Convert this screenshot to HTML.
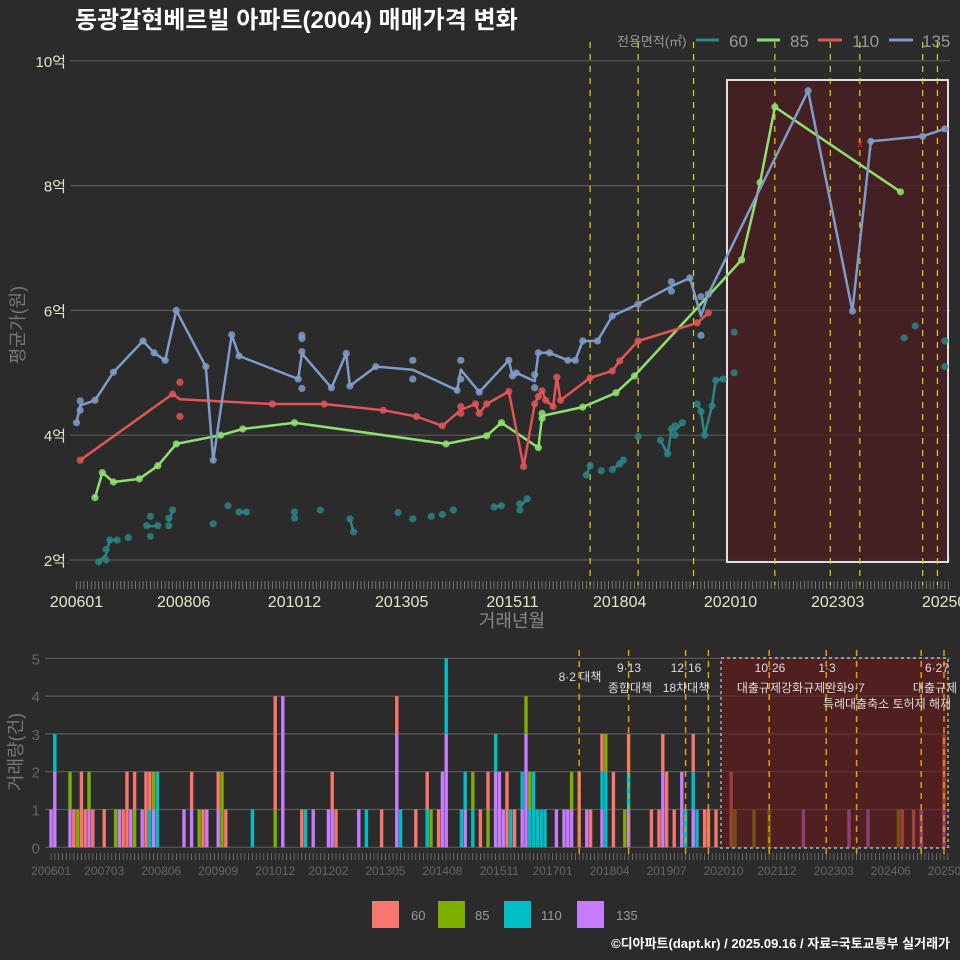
<!DOCTYPE html>
<html><head><meta charset="utf-8">
<style>
html,body{margin:0;padding:0;background:#2b2b2b;}
svg{display:block;font-family:"Liberation Sans","Noto Sans CJK KR",sans-serif;}
</style></head>
<body>
<svg id="chart" width="960" height="960" viewBox="0 0 960 960" xmlns="http://www.w3.org/2000/svg">
<rect width="960" height="960" fill="#2b2b2b"/>
<text x="75" y="28" fill="#ffffff" font-size="24" font-weight="bold">동광갈현베르빌 아파트(2004) 매매가격 변화</text>
<g>
<text x="617" y="46" fill="#999" font-size="13">전용면적(㎡)</text>
<line x1="696" y1="40" x2="719" y2="40" stroke="#2b8a8a" stroke-width="3"/>
<text x="729" y="47" fill="#999" font-size="17">60</text>
<line x1="757" y1="40" x2="780" y2="40" stroke="#8fe070" stroke-width="3"/>
<text x="790" y="47" fill="#999" font-size="17">85</text>
<line x1="818" y1="40" x2="842" y2="40" stroke="#e05555" stroke-width="3"/>
<text x="852" y="47" fill="#999" font-size="17">110</text>
<line x1="889" y1="40" x2="913" y2="40" stroke="#7f9cc8" stroke-width="3"/>
<text x="922" y="47" fill="#999" font-size="17">135</text>
</g>
<g id="topPanel"></g>
<g id="botPanel"></g>
<text transform="translate(24,325) rotate(-90)" text-anchor="middle" fill="#777" font-size="18">평균가(원)</text>
<text x="512" y="627" text-anchor="middle" fill="#888" font-size="18">거래년월</text>
<text transform="translate(22,752) rotate(-90)" text-anchor="middle" fill="#777" font-size="18">거래량(건)</text>
<g>
<rect x="372" y="901" width="27" height="27" fill="#F8766D"/>
<text x="411" y="920" fill="#999" font-size="13">60</text>
<rect x="438" y="901" width="27" height="27" fill="#7CAE00"/>
<text x="475" y="920" fill="#999" font-size="13">85</text>
<rect x="504" y="901" width="27" height="27" fill="#00BFC4"/>
<text x="541" y="920" fill="#999" font-size="13">110</text>
<rect x="577" y="901" width="27" height="27" fill="#C77CFF"/>
<text x="616" y="920" fill="#999" font-size="13">135</text>
</g>
<text x="950" y="948" text-anchor="end" fill="#ffffff" font-size="13" font-weight="bold">©디아파트(dapt.kr) / 2025.09.16 / 자료=국토교통부 실거래가</text>
</svg>
<script>
// ---- price data (month index from 2006-01, value in 억) ----
const m60 = [6,8,8,9,11,14,19,20,20,22,25,25,26,37,41,44,46,59,59,66,74,75,87,91,96,99,102,113,115,120,120,122,138,139,142,145,147,148,152,158,160,161,162,162,164,168,169,170,172,173,175,178,178,224,227,235,235];
const v60 = [1.97,2.0,2.17,2.32,2.32,2.36,2.55,2.7,2.38,2.55,2.55,2.67,2.8,2.58,2.87,2.77,2.77,2.77,2.67,2.8,2.66,2.45,2.76,2.66,2.7,2.73,2.8,2.85,2.87,2.8,2.9,2.98,3.36,3.51,3.43,3.45,3.54,3.6,3.98,3.92,3.7,4.1,4.15,4.0,4.2,4.5,4.38,4.0,4.47,4.88,4.9,5.65,5.0,5.56,5.75,5.51,5.1];
const m85 = [5,7,10,17,22,27,39,45,59,100,111,115,125,126,126,137,146,151,180,185,189,223];
const v85 = [3.0,3.4,3.25,3.3,3.51,3.86,4.0,4.1,4.2,3.86,3.99,4.2,3.8,4.35,4.27,4.45,4.68,4.95,6.81,8.05,9.26,7.9];
const m110 = [1,26,28,28,53,67,83,92,99,104,104,108,109,111,117,121,124,125,126,127,129,130,131,139,145,147,152,168,171];
const v110 = [3.6,4.66,4.85,4.3,4.5,4.5,4.4,4.3,4.15,4.46,4.35,4.5,4.35,4.5,4.7,3.5,4.5,4.62,4.71,4.56,4.46,4.93,4.56,4.92,5.03,5.19,5.51,5.8,5.96];
const m135 = [0,1,1,5,10,18,21,24,27,35,37,42,44,60,61,61,61,61,69,73,74,81,91,91,103,104,104,109,117,118,119,124,124,125,128,133,135,137,141,145,152,161,161,166,169,169,171,198,210,215,229,235];
const v135 = [4.2,4.55,4.4,4.56,5.01,5.51,5.32,5.2,6.0,5.1,3.6,5.61,5.27,4.9,5.6,5.55,5.34,4.75,4.76,5.31,4.79,5.1,5.2,4.9,4.72,5.2,4.9,4.69,5.2,4.95,5.0,4.97,4.76,5.32,5.32,5.2,5.2,5.51,5.51,5.91,6.1,6.46,6.31,6.52,6.22,5.6,6.26,9.52,5.99,8.71,8.79,8.91];
const yTicks = [2,4,6,8,10];
const yTickLabels = ["2억","4억","6억","8억","10억"];
const xTickMonths = [0,29,59,88,118,147,177,206,236];
const xTickLabels = ["200601","200806","201012","201305","201511","201804","202010","202303","202509"];
const policyMonths = [139,152,167,189,204,212,229,233];
// ---- volume data ----
const barMonths = [0,1,5,6,7,8,9,10,11,14,17,18,19,20,21,22,24,25,26,27,28,35,37,39,40,41,44,45,46,53,59,61,66,67,69,73,74,75,81,83,87,91,92,96,99,100,102,103,104,108,109,111,113,115,117,118,119,120,121,122,124,125,126,127,128,129,130,133,135,136,137,139,141,142,145,146,148,151,152,158,160,161,162,164,166,167,169,170,172,173,175,179,180,185,189,198,210,215,223,224,227,229,235];
const c135 = [1,2,1,0,0,0,0,1,0,0, 0,1,0,0,1,0,1,0,0,1, 0,1,1,0,0,1,1,0,0,0, 0,4,0,0,1,1,1,0,1,0, 0,3,0,0,0,0,0,2,3,0, 1,0,0,0,2,2,1,0,0,0, 1,3,0,0,0,0,0,1,1,1, 1,0,1,0,1,0,0,0,1,0, 0,2,0,0,2,0,1,0,0,0, 0,0,0,0,0,1,1,1,0,0, 0,1,1];
const c110 = [0,1,0,0,0,0,0,0,0,0, 0,0,0,0,0,0,0,0,1,0, 2,0,0,0,0,0,0,0,0,1, 0,0,0,1,0,0,0,0,0,1, 0,0,1,0,1,0,0,0,2,1, 1,1,0,0,1,0,0,0,1,0, 1,0,1,2,1,1,1,0,0,0, 0,0,0,0,1,2,0,0,1,0, 0,0,0,0,0,1,1,1,0,0, 0,0,0,0,0,0,0,0,0,0, 0,0,0];
const c85 = [0,0,1,0,1,0,0,1,0,0, 1,0,0,0,0,1,0,0,0,1, 0,0,0,1,0,0,0,2,0,0, 1,0,0,0,0,0,0,0,0,0, 0,0,0,0,0,1,0,0,0,0, 0,1,0,1,0,0,0,0,0,0, 0,1,1,0,0,0,0,0,0,0, 1,0,0,0,0,1,0,1,0,0, 0,0,0,0,0,0,0,0,0,0, 0,0,1,1,1,0,0,0,1,0, 0,0,0];
const c60 = [0,0,0,1,0,2,1,0,1,1, 0,0,1,2,0,1,0,2,1,0, 0,0,1,0,1,0,1,0,1,0, 3,0,1,0,0,0,1,1,0,0, 1,1,0,1,1,0,1,0,0,0, 0,0,1,1,0,0,0,2,0,1, 0,0,0,0,0,0,0,0,0,0, 0,2,0,1,1,0,2,0,1,1, 1,1,2,1,0,0,1,0,1,1, 1,2,0,0,0,0,0,0,0,1, 1,0,2];
const vTicks = [0,1,2,3,4,5];
const bTickMonths = [0,14,29,44,59,73,88,103,118,132,147,162,177,191,206,221,236];
const bTickLabels = ["200601","200703","200806","200909","201012","201202","201305","201408","201511","201701","201804","201907","202010","202112","202303","202406","202509"];
const annoMonths = [139,152,167,173,189,204,212,229,235];

const NS="http://www.w3.org/2000/svg";
function mk(parent,tag,attrs){const e=document.createElementNS(NS,tag);for(const k in attrs)e.setAttribute(k,attrs[k]);parent.appendChild(e);return e;}
const topG=document.getElementById('topPanel'), botG=document.getElementById('botPanel');
const xT=m=>76.5+3.695*m, yT=v=>560-(v-2)*62.4;
const xB=m=>51+3.80*m, yB=v=>847.3-v*37.8;

yTicks.forEach((t,i)=>{
  const g=mk(topG,'line',{x1:70,x2:950,y1:yT(t),y2:yT(t),stroke:'#5a5a5a','stroke-width':1.2});
  
  
  const tx=mk(topG,'text',{x:66,y:yT(t)+6,'text-anchor':'end',fill:'#e8e4c8','font-size':15});
  tx.textContent=yTickLabels[i];
  
  
});
for(let m=0;m<=236;m++){
  const t=mk(topG,'line',{x1:xT(m),x2:xT(m),y1:581,y2:589,stroke:'#888','stroke-width':0.8});
  
  
}
xTickMonths.forEach((m,i)=>{
  const tx=mk(topG,'text',{x:xT(m),y:607,'text-anchor':'middle',fill:'#e8e4c8','font-size':16});
  tx.textContent=xTickLabels[i];
  
  
});
const sh=mk(topG,'rect',{x:727,y:80,width:221,height:482,fill:'#4a1f22',opacity:0.85,stroke:'#ffffff','stroke-width':2});


policyMonths.forEach(m=>{
  const l=mk(topG,'line',{x1:xT(m),x2:xT(m),y1:42,y2:585,stroke:'#d8d800','stroke-width':1.2,'stroke-dasharray':'6,6'});
  
  
});
function means(ms,vs){const o={};ms.forEach((m,i)=>{(o[m]=o[m]||[]).push(vs[i]);});return Object.keys(o).map(Number).sort((a,b)=>a-b).map(m=>[m,o[m].reduce((a,b)=>a+b,0)/o[m].length]);}
function series(ms,vs,col,name,maxGap){
  const mm=means(ms,vs);
  let d='';
  mm.forEach((p,i)=>{const cmd=(i===0||(maxGap&&p[0]-mm[i-1][0]>maxGap))?'M':'L';d+=cmd+xT(p[0]).toFixed(1)+','+yT(p[1]).toFixed(1)+' ';});
  const pa=mk(topG,'path',{d:d,fill:'none',stroke:col,'stroke-width':2.5,'stroke-linejoin':'round'});
  
  
  ms.forEach((m,i)=>{
    const c=mk(topG,'circle',{cx:xT(m),cy:yT(vs[i]),r:3.6,fill:col,opacity:0.85});
    
    
  });
}
series(m60,v60,'#2b8585','60',2);
series(m85,v85,'#8fe070','85',0);
series(m110,v110,'#e05555','110',0);
series(m135,v135,'#7f9cc8','135',0);
const xm=mk(topG,'text',{x:860,y:147,'text-anchor':'middle',fill:'#ff2020','font-size':12});
xm.textContent='x';



vTicks.forEach(t=>{
  const g=mk(botG,'line',{x1:45,x2:950,y1:yB(t),y2:yB(t),stroke:'#5a5a5a','stroke-width':1.2});
  
  
  const tx=mk(botG,'text',{x:40,y:yB(t)+6,'text-anchor':'end',fill:'#666','font-size':15});
  tx.textContent=String(t);
  
  
});
for(let m=0;m<=236;m++){
  const t=mk(botG,'line',{x1:xB(m),x2:xB(m),y1:853,y2:860,stroke:'#777','stroke-width':0.8});
  
  
}
bTickMonths.forEach((m,i)=>{
  const tx=mk(botG,'text',{x:xB(m),y:875,'text-anchor':'middle',fill:'#666','font-size':12});
  tx.textContent=bTickLabels[i];
  
  
});
const cols=['#C77CFF','#00BFC4','#7CAE00','#F8766D'];
const stacks=[c135,c110,c85,c60];
barMonths.forEach((m,i)=>{
  let base=0;
  stacks.forEach((arr,k)=>{
    const v=arr[i]; if(!v) return;
    const r=mk(botG,'rect',{x:xB(m)-1.7,y:yB(base+v),width:3.4,height:yB(base)-yB(base+v),fill:cols[k]});
    
    
    base+=v;
  });
});
const sb=mk(botG,'rect',{x:721,y:658,width:227,height:190,fill:'#6a1a1a',opacity:0.6,stroke:'#cccccc','stroke-width':2,'stroke-dasharray':'3,3'});


annoMonths.forEach(m=>{
  const l=mk(botG,'line',{x1:xB(m),x2:xB(m),y1:650,y2:858,stroke:'#e6a000','stroke-width':1.5,'stroke-dasharray':'6,5'});
  
  
});
const annos=[[580,681,'8·2 대책'],[629,672,'9·13'],[630,692,'종합대책'],[686,672,'12·16'],[686,692,'18차대책'],[770,672,'10·26'],[770,692,'대출규제강화'],[827,672,'1·3'],[834,692,'규제완화9·7'],[887,708,'특례대출축소 토허제 해제'],[937,672,'6·27'],[935,692,'대출규제']];
annos.forEach(a=>{
  const tx=mk(botG,'text',{x:a[0],y:a[1],'text-anchor':'middle',fill:'#dddddd','font-size':12});
  tx.textContent=a[2];
  
  
});
</script>
</body></html>
